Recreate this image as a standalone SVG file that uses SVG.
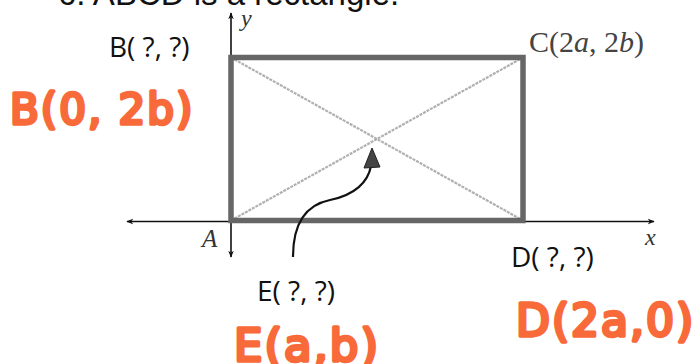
<svg xmlns="http://www.w3.org/2000/svg" width="699" height="364" viewBox="0 0 699 364">
<style>
.lbl{font-family:"Open Sans","Liberation Sans",sans-serif;font-size:28px;fill:#111}
.math{font-family:"Liberation Serif",serif;font-style:italic;fill:#333}
.hand{font-family:"DejaVu Sans","Liberation Sans",sans-serif;fill:#F96A3A;stroke:#F96A3A;stroke-width:3.5;stroke-linejoin:round;stroke-linecap:round;letter-spacing:2px}
.axis{stroke:#111;stroke-width:1.6;fill:none}
.diag{stroke:#b0b0b0;stroke-width:2.2;stroke-dasharray:3 1}
</style>
<defs>
<marker id="ah" viewBox="0 0 10 10" refX="9" refY="5" markerWidth="7" markerHeight="7" orient="auto-start-reverse" markerUnits="userSpaceOnUse">
<path d="M0,1 L10,5 L0,9 L3,5 Z" fill="#111"/>
</marker>
</defs>
<rect width="699" height="364" fill="#fff"/>
<text x="58" y="5" font-family="Liberation Sans, Arial, sans-serif" font-size="33" fill="#111">6. ABCD is a rectangle.</text>
<g id="axes">
<line class="axis" x1="231" y1="257" x2="231" y2="13" marker-start="url(#ah)" marker-end="url(#ah)"/>
<line class="axis" x1="127" y1="221.5" x2="654" y2="221.5" marker-start="url(#ah)" marker-end="url(#ah)"/>
<text class="math" x="241" y="26" font-size="24">y</text>
<text class="math" x="645" y="245" font-size="24">x</text>
</g>
<g id="rectangle">
<line class="diag" x1="231" y1="57.5" x2="523" y2="220.5"/>
<line class="diag" x1="231" y1="220.5" x2="523" y2="57.5"/>
<rect x="231" y="57.5" width="292" height="163" fill="none" stroke="#666" stroke-width="5.5"/>
</g>
<g id="A"><text class="math" x="202" y="247" font-size="25">A</text></g>
<g id="B">
<text class="lbl" x="109" y="57">B( ?, ?)</text>
<text class="hand" x="10" y="124" font-size="42">B(0, 2b)</text>
</g>
<g id="C"><text x="529" y="52" font-family="Liberation Serif, serif" font-size="30" fill="#444">C(2<tspan font-style="italic">a</tspan>, 2<tspan font-style="italic">b</tspan>)</text></g>
<g id="D">
<text class="lbl" x="511" y="267">D( ?, ?)</text>
<text class="hand" x="516" y="336" font-size="44">D(2a,0)</text>
</g>
<g id="E">
<text class="lbl" x="257" y="301">E( ?, ?)</text>
<text class="hand" x="234" y="361" font-size="45">E(a,b)</text>
</g>
<g id="connectors">
<path d="M293,257 C293,225 305,205 330,200 C355,195 368,182 371,166" fill="none" stroke="#111" stroke-width="2.2"/>
<polygon points="372,148 364,168 380,167" fill="#444" stroke="#222" stroke-width="1"/>
</g>
</svg>
